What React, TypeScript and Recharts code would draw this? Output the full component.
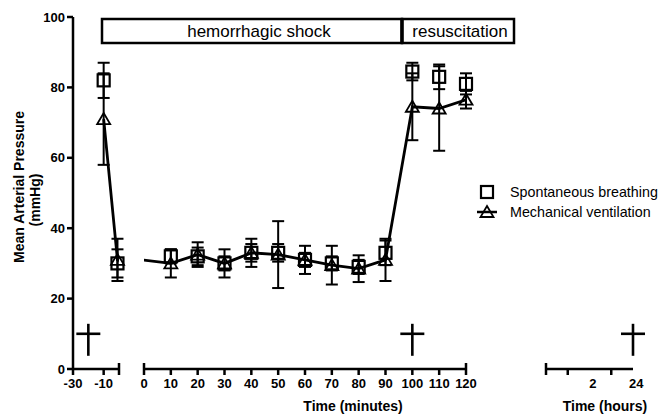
import { ComposedChart, ErrorBar, Line, Scatter, XAxis, YAxis } from "recharts";

// time points (minutes); -1 is the last reading before shock starts
const minutes = [-10, -1, 10, 20, 30, 40, 50, 60, 70, 80, 90, 100, 110, 120];
const spontMean = [82, 30, 32, 32, 30, 33, 33, 31, 30, 29, 33, 84.5, 83, 81];
const spontErr = [5, 4, 2, 2.5, 2, 2.5, 2.5, 2, 2, 2, 3.5, 2.5, 3.5, 3];
const mechMean = [71, 31, 30, 32.5, 30, 33, 32.5, 31, 29.5, 28.5, 31, 74.5, 74, 76.5];
const mechErr = [13, 6, 4, 3.5, 4, 4, 9.5, 4, 5.5, 3.8, 6, 9.5, 12, 2.5];

// deaths (dagger marks)
const deathMinutes = [-20, 100];
const deathHourPos = [4];
const deathLevel = 10;

const yTicks = [0, 20, 40, 60, 80, 100];
const preTicks = [-30, -10, 0];
const shockTicks = [0, 10, 20, 30, 40, 50, 60, 70, 80, 90, 100, 110, 120];
const hourTickPos = [0, 1, 3];
const hourTickLabels = ["", "2", "24"];

const FONT = "'Liberation Sans', Arial, Helvetica, sans-serif";
const H = 415;
const M = { top: 17, bottom: 0 };
const XH = 46;
const AXIS_Y = H - XH - M.bottom;

const spont = minutes.map((x, i) => ({ x, y: spontMean[i], e: spontErr[i] }));
const mech = minutes.map((x, i) => ({ x, y: mechMean[i], e: mechErr[i] }));
const inRange = (lo: number, hi: number) => (p: { x: number }) => p.x >= lo && p.x <= hi;

const SquareDot = (p: any) => (
  <rect x={p.cx - 6} y={p.cy - 6} width={12} height={12} fill="none" stroke="#000" strokeWidth={2.2} />
);

const TriDot = (p: any) => (
  <path d={`M${p.cx},${p.cy - 6} L${p.cx + 6.5},${p.cy + 5} L${p.cx - 6.5},${p.cy + 5} Z`} fill="none" stroke="#000" strokeWidth={1.8} />
);

const Dagger = (p: any) => (
  <g stroke="#000" strokeWidth={2.6}>
    <line x1={p.cx} x2={p.cx} y1={p.cy - 10} y2={p.cy + 22} />
    <line x1={p.cx - 12} x2={p.cx + 12} y1={p.cy} y2={p.cy} />
  </g>
);

function makeTick(caps: number[], label: (v: number) => string, dx = 0) {
  return (props: any) => {
    const { x, payload } = props;
    const y = AXIS_Y;
    const v = payload.value;
    const cap = caps.includes(v);
    const t = label(v);
    return (
      <g>
        <line x1={x} x2={x} y1={cap ? y - 6 : y} y2={y + 6} stroke="#000" strokeWidth={2.5} />
        {t ? (
          <text x={x + dx} y={y + 19} textAnchor="middle" fontSize={13} fontWeight="bold" fontFamily={FONT} fill="#000">
            {t}
          </text>
        ) : null}
      </g>
    );
  };
}

const axisLine = { stroke: "#000", strokeWidth: 2.5 };

export default function App() {
  const dMin = deathMinutes.map((x) => ({ x, y: deathLevel }));
  const dHr = deathHourPos.map((x) => ({ x, y: deathLevel }));
  return (
    <div style={{ position: "absolute", left: 0, top: 0, width: 662, height: 415, background: "#fff", fontFamily: FONT }}>
      {/* baseline segment with y axis */}
      <div style={{ position: "absolute", left: 0, top: 0 }}>
        <ComposedChart width={131} height={H} margin={{ ...M, left: 0, right: 12 }}>
          <YAxis
            dataKey="y"
            type="number"
            domain={[0, 100]}
            ticks={yTicks}
            width={73}
            tickSize={6}
            tickMargin={2}
            axisLine={axisLine}
            tickLine={{ stroke: "#000", strokeWidth: 2.5 }}
            tick={{ fill: "#000", fontSize: 13, fontWeight: "bold", fontFamily: FONT }}
          />
          <XAxis
            xAxisId="main"
            dataKey="x"
            type="number"
            domain={[-30, 0]}
            ticks={preTicks}
            interval={0}
            height={XH}
            tickSize={0}
            tickMargin={0}
            tickLine={false}
            axisLine={axisLine}
            tick={makeTick([0], (v) => (v === 0 ? "" : String(v)))}
          />
          <XAxis xAxisId="clip" orientation="top" height={0} dataKey="x" type="number" domain={[-30, 0]} allowDataOverflow hide />
          <Line xAxisId="clip" data={mech} dataKey="y" stroke="#000" strokeWidth={2.8} dot={false} isAnimationActive={false} />
          <Scatter xAxisId="main" data={spont.filter(inRange(-30, 0))} dataKey="y" shape={SquareDot} isAnimationActive={false}>
            <ErrorBar dataKey="e" direction="y" width={6} strokeWidth={2} stroke="#000" />
          </Scatter>
          <Scatter xAxisId="main" data={mech.filter(inRange(-30, 0))} dataKey="y" shape={TriDot} isAnimationActive={false}>
            <ErrorBar dataKey="e" direction="y" width={6} strokeWidth={2} stroke="#000" />
          </Scatter>
          <Scatter xAxisId="main" data={dMin.filter(inRange(-30, 0))} dataKey="y" shape={Dagger} isAnimationActive={false} />
        </ComposedChart>
      </div>

      {/* shock + resuscitation segment */}
      <div style={{ position: "absolute", left: 124, top: 0 }}>
        <ComposedChart width={366} height={H} margin={{ ...M, left: 20, right: 24 }}>
          <YAxis dataKey="y" type="number" domain={[0, 100]} hide />
          <XAxis
            xAxisId="main"
            dataKey="x"
            type="number"
            domain={[0, 120]}
            ticks={shockTicks}
            interval={0}
            height={XH}
            tickSize={0}
            tickMargin={0}
            tickLine={false}
            axisLine={axisLine}
            tick={makeTick([0, 120], (v) => String(v))}
          />
          <XAxis xAxisId="clip" orientation="top" height={0} dataKey="x" type="number" domain={[0, 120]} allowDataOverflow hide />
          <Line xAxisId="clip" data={mech} dataKey="y" stroke="#000" strokeWidth={2.8} dot={false} isAnimationActive={false} />
          <Scatter xAxisId="main" data={spont.filter(inRange(0, 120))} dataKey="y" shape={SquareDot} isAnimationActive={false}>
            <ErrorBar dataKey="e" direction="y" width={6} strokeWidth={2} stroke="#000" />
          </Scatter>
          <Scatter xAxisId="main" data={mech.filter(inRange(0, 120))} dataKey="y" shape={TriDot} isAnimationActive={false}>
            <ErrorBar dataKey="e" direction="y" width={6} strokeWidth={2} stroke="#000" />
          </Scatter>
          <Scatter xAxisId="main" data={dMin.filter(inRange(0, 120))} dataKey="y" shape={Dagger} isAnimationActive={false} />
        </ComposedChart>
      </div>

      {/* hours segment */}
      <div style={{ position: "absolute", left: 530, top: 0 }}>
        <ComposedChart width={123} height={H} margin={{ ...M, left: 16, right: 20 }}>
          <YAxis dataKey="y" type="number" domain={[0, 100]} hide />
          <XAxis
            dataKey="x"
            type="number"
            domain={[0, 4]}
            ticks={hourTickPos}
            interval={0}
            height={XH}
            tickSize={0}
            tickMargin={0}
            tickLine={false}
            axisLine={axisLine}
            tick={makeTick([0], (v) => hourTickLabels[hourTickPos.indexOf(v)] ?? "", 25)}
          />
          <Scatter data={dHr} dataKey="y" shape={Dagger} isAnimationActive={false} />
        </ComposedChart>
      </div>

      {/* annotations */}
      <svg width={662} height={415} style={{ position: "absolute", left: 0, top: 0, pointerEvents: "none" }} fontFamily={FONT}>
        <text transform="translate(24,187) rotate(-90)" textAnchor="middle" fontSize={14} fontWeight="bold" fill="#000">
          Mean Arterial Pressure
        </text>
        <text transform="translate(40,200) rotate(-90)" textAnchor="middle" fontSize={14} fontWeight="bold" fill="#000">
          (mmHg)
        </text>

        <rect x={102} y={19} width={300} height={24} fill="#fff" stroke="#000" strokeWidth={2.5} />
        <rect x={402} y={19} width={112} height={24} fill="#fff" stroke="#000" strokeWidth={2.5} />
        <line x1={402} x2={402} y1={19} y2={43} stroke="#000" strokeWidth={3.5} />
        <text x={259} y={37} textAnchor="middle" fontSize={17} fill="#000">hemorrhagic shock</text>
        <text x={460} y={37} textAnchor="middle" fontSize={17} fill="#000">resuscitation</text>

        <rect x={481} y={186} width={12} height={12} fill="none" stroke="#000" strokeWidth={2.2} />
        <text x={510} y={197} fontSize={14.3} fill="#000">Spontaneous breathing</text>
        <line x1={477} x2={497} y1={212} y2={212} stroke="#000" strokeWidth={2.5} />
        <path d="M487,206 L493.5,217 L480.5,217 Z" fill="none" stroke="#000" strokeWidth={1.8} />
        <text x={510} y={217} fontSize={14.3} fill="#000">Mechanical ventilation</text>

        <text x={353} y={411} textAnchor="middle" fontSize={14} fontWeight="bold" fill="#000">Time (minutes)</text>
        <text x={605} y={411} textAnchor="middle" fontSize={14} fontWeight="bold" fill="#000">Time (hours)</text>
      </svg>
    </div>
  );
}
